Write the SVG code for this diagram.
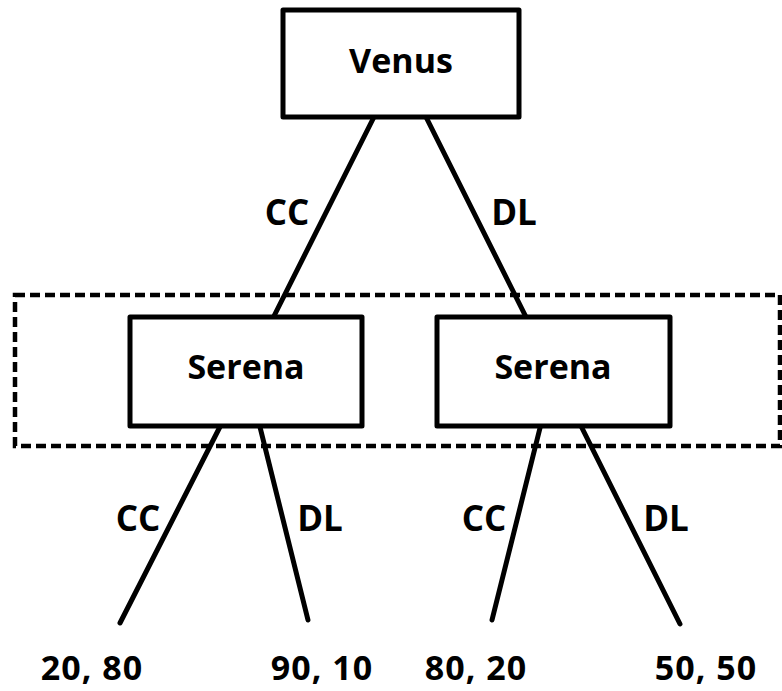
<svg xmlns="http://www.w3.org/2000/svg" width="782" height="691" viewBox="0 0 782 691">
<style>
.box{fill:#fff;stroke:#000;stroke-width:5;stroke-linejoin:round}
.edge{stroke:#000;stroke-width:5;stroke-linecap:round;fill:none}
.grp{fill:none;stroke:#000;stroke-width:4.5;stroke-dasharray:10,5}
text{font-family:"Open Sans","Lato",sans-serif;font-weight:bold;fill:#000;text-anchor:middle}
.n{font-size:34px}
.l{font-size:35px}
.v{font-size:34px;letter-spacing:1px}
</style>
<rect width="782" height="691" fill="#fff"/>
<g id="group"><rect class="grp" x="15" y="295" width="765" height="151"/></g>
<g id="connectors">
<line class="edge" x1="380" y1="105" x2="267" y2="330"/>
<line class="edge" x1="420" y1="105" x2="533" y2="331"/>
<line class="edge" x1="227" y1="413" x2="120" y2="623"/>
<line class="edge" x1="257" y1="415" x2="308" y2="620"/>
<line class="edge" x1="543" y1="416" x2="492" y2="620"/>
<line class="edge" x1="574" y1="412" x2="680" y2="624"/>
<text class="l" x="287" y="225">CC</text>
<text class="l" x="514" y="225">DL</text>
<text class="l" x="138" y="531">CC</text>
<text class="l" x="320" y="531">DL</text>
<text class="l" x="484" y="531">CC</text>
<text class="l" x="666" y="531">DL</text>
</g>
<g id="venus"><rect class="box" x="283" y="10" width="236" height="107"/><text class="n" x="401" y="73">Venus</text></g>
<g id="serena-left"><rect class="box" x="130" y="317" width="232" height="109"/><text class="n" x="246" y="379">Serena</text></g>
<g id="serena-right"><rect class="box" x="437" y="317" width="233" height="109"/><text class="n" x="553" y="379">Serena</text></g>
<g id="payoff-1"><text class="v" x="92" y="680">20, 80</text></g>
<g id="payoff-2"><text class="v" x="322" y="680">90, 10</text></g>
<g id="payoff-3"><text class="v" x="476" y="680">80, 20</text></g>
<g id="payoff-4"><text class="v" x="706" y="680">50, 50</text></g>
</svg>
